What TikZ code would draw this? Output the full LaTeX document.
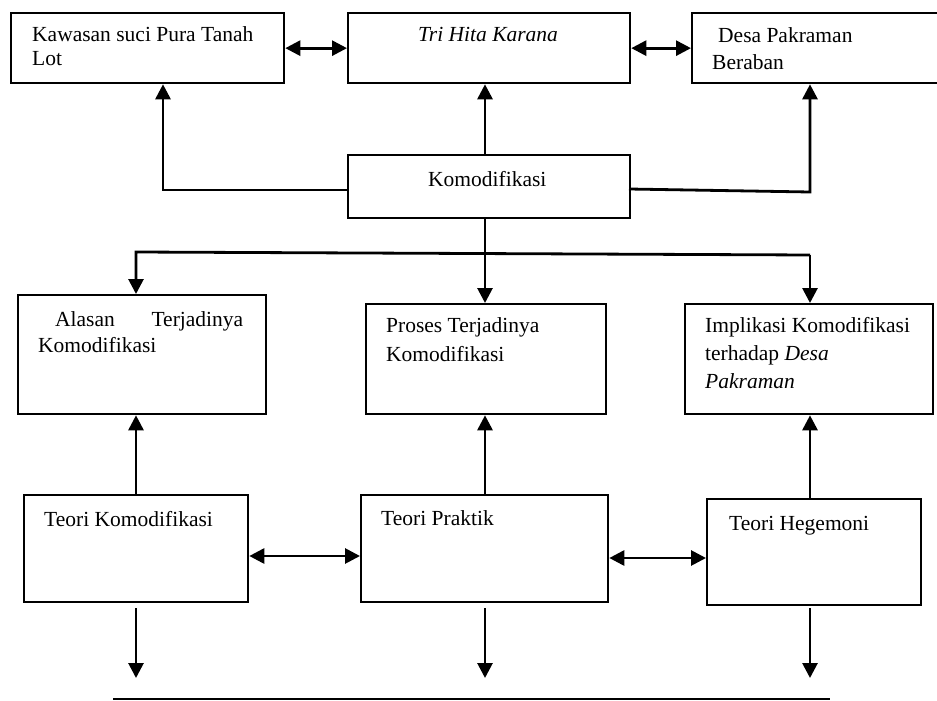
\documentclass[tikz,border=0pt]{standalone}
\usepackage{fontspec}
\setmainfont{Liberation Serif}
\usetikzlibrary{arrows.meta}
\tikzset{
  box/.style={draw, line width=2.3pt, inner sep=0pt, anchor=north west},
  lbl/.style={inner sep=0pt, anchor=base west, align=left, font=\fontsize{21.5}{28}\selectfont},
  arr/.style={line width=2.8pt, -{Triangle[length=15pt,width=15pt]}},
  dbl/.style={line width=2.8pt, {Triangle[length=15pt,width=15pt]}-{Triangle[length=15pt,width=15pt]}},
  plain/.style={line width=2.3pt}
}
\begin{document}
\begin{tikzpicture}[x=1pt,y=-1pt]
\useasboundingbox (0,0) rectangle (937,701);
\fill[white] (0,0) rectangle (937,701);
% boxes
\node[box, minimum width=273pt, minimum height=70pt] (kaw) at (10,12) {};
\node[box, minimum width=282pt, minimum height=70pt] (thk) at (347,12) {};
\node[box, minimum width=250pt, minimum height=70pt] (desa) at (691,12) {};
\node[box, minimum width=282pt, minimum height=63pt] (kom) at (347,154) {};
\node[box, minimum width=248pt, minimum height=119pt] (alas) at (17,294) {};
\node[box, minimum width=240pt, minimum height=110pt] (pros) at (365,303) {};
\node[box, minimum width=248pt, minimum height=110pt] (impl) at (684,303) {};
\node[box, minimum width=224pt, minimum height=107pt] (tkom) at (23,494) {};
\node[box, minimum width=247pt, minimum height=107pt] (tprak) at (360,494) {};
\node[box, minimum width=214pt, minimum height=106pt] (theg) at (706,498) {};
% texts (base anchor = baseline of last line)
\node[lbl, font=\fontsize{21.5}{24}\selectfont] (tkaw) at (32,66) {Kawasan suci Pura Tanah\\Lot};
\node[lbl] (tthk) at (418,42) {\itshape Tri Hita Karana};
\node[lbl, font=\fontsize{21.5}{27}\selectfont] (tdesa) at (712,70) {\hspace{6pt}Desa Pakraman\\Beraban};
\node[lbl] (tkomod) at (428,186) {Komodifikasi};
\node[lbl, font=\fontsize{21.5}{26}\selectfont] (talas) at (38,352) {\hbox to 205pt{\hspace{17pt}Alasan\hfill Terjadinya}\\Komodifikasi};
\node[lbl, font=\fontsize{21.5}{29}\selectfont] (tpros) at (386,361) {Proses Terjadinya\\Komodifikasi};
\node[lbl] (timpl) at (705,388) {Implikasi Komodifikasi\\terhadap \textit{Desa}\\\textit{Pakraman}};
\node[lbl] (ttkom) at (44,526) {Teori Komodifikasi};
\node[lbl] (ttprak) at (381,525) {Teori Praktik};
\node[lbl] (ttheg) at (729,530) {Teori Hegemoni};
% helper coordinates
\coordinate (bendL) at (163,190);
\coordinate (bendR) at (810,192);
\coordinate (komR) at (629,189);
\coordinate (brL) at (136,252);
\coordinate (brR) at (810,255);
\coordinate (xM) at (485,0);
\coordinate (hb1) at (0,556);
\coordinate (hb2) at (0,558);
\coordinate (s1) at (136,608); \coordinate (e1) at (136,678);
\coordinate (s2) at (485,608); \coordinate (e2) at (485,678);
\coordinate (s3) at (810,608); \coordinate (e3) at (810,678);
\coordinate (bl) at (113,699); \coordinate (br) at (830,699);
% top connectors
\draw[dbl] (kaw.east) -- (thk.west);
\draw[dbl] (thk.east) -- (desa.west);
\draw[arr] (kom.north -| xM) -- (thk.south -| xM);
\draw[arr] (kom.west |- bendL) -- (bendL) -- (kaw.south -| bendL);
\draw[arr] (komR) -- (bendR) -- (desa.south -| bendR);
% middle connectors
\draw[arr] (kom.south -| xM) -- (pros.north -| xM);
\draw[arr] (brR) -- (brL) -- (alas.north -| brL);
\draw[arr] (brR) -- (impl.north -| brR);
% upward arrows
\draw[arr] (tkom.north -| brL) -- (alas.south -| brL);
\draw[arr] (tprak.north -| xM) -- (pros.south -| xM);
\draw[arr] (theg.north -| brR) -- (impl.south -| brR);
% bottom double arrows
\draw[dbl] (tkom.east |- hb1) -- (tprak.west |- hb1);
\draw[dbl] (tprak.east |- hb2) -- (theg.west |- hb2);
% down arrows
\draw[arr] (s1) -- (e1);
\draw[arr] (s2) -- (e2);
\draw[arr] (s3) -- (e3);
\draw[plain] (bl) -- (br);
\end{tikzpicture}
\end{document}
